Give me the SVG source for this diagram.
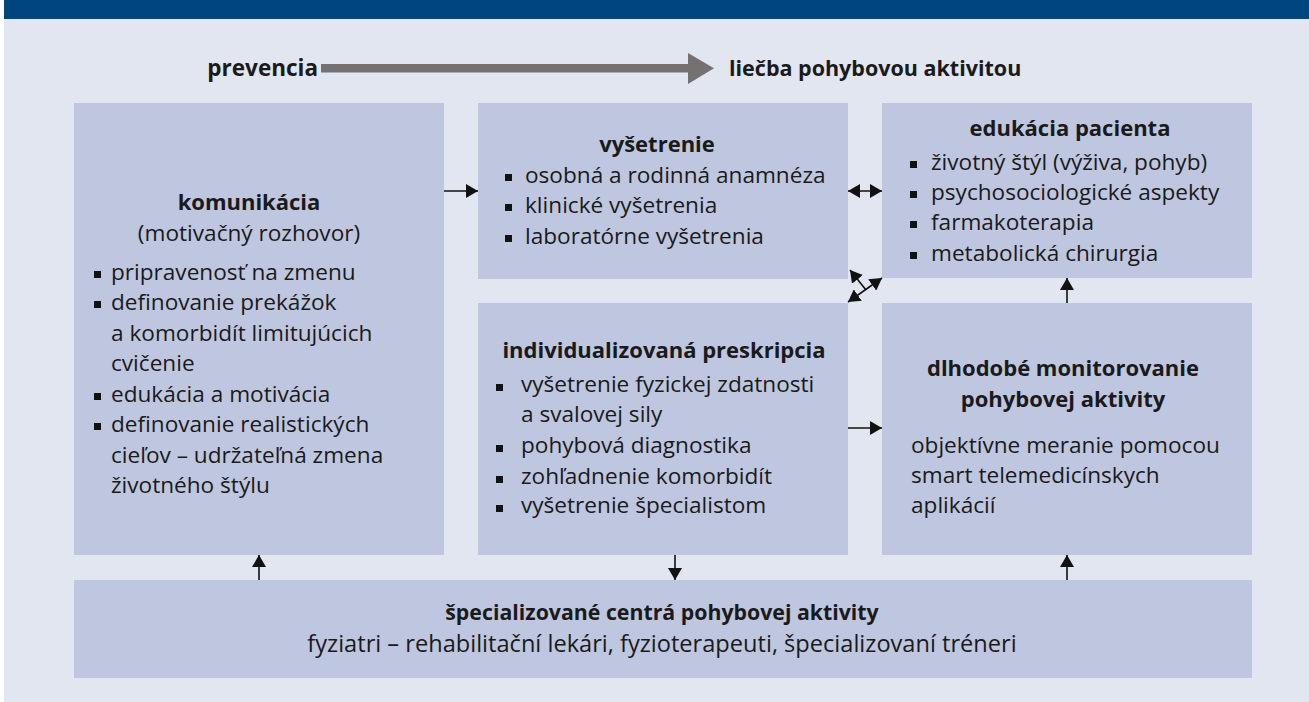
<svg xmlns="http://www.w3.org/2000/svg" width="1309" height="702" viewBox="0 0 1309 702">
<defs>
<style>
.box{fill:#bfc7e0}
.t{font-family:"Open Sans","Noto Sans",sans-serif;font-size:22.6px;fill:#1a1a1a}
.b{font-weight:bold;font-size:22px}
.c{text-anchor:middle}
.bul{fill:#111}
.con{stroke:#111;stroke-width:1.6;fill:none}
</style>
<marker id="ah" markerWidth="13" markerHeight="14" refX="12" refY="7" orient="auto-start-reverse" markerUnits="userSpaceOnUse">
<path d="M0,0 L12,7 L0,14 z" fill="#111"/>
</marker>
</defs>
<rect x="0" y="0" width="1309" height="702" fill="#ffffff"/>
<rect x="4" y="0" width="1305" height="19" fill="#00457d"/>
<rect x="4" y="19" width="1305" height="683" fill="#e1e6f0"/>

<g id="flow">
<text class="t b" x="318" y="76" text-anchor="end" style="font-size:22.5px">prevencia</text>
<rect x="321" y="64" width="368" height="8.5" fill="#757170"/>
<path d="M688,53 L714,68.3 L688,84 z" fill="#757170"/>
<text class="t b" x="729" y="76" style="font-size:21.5px">liečba pohybovou aktivitou</text>
</g>

<g id="komunikacia">
<rect class="box" x="74" y="103" width="370" height="452"/>
<text class="t b c" x="249" y="210">komunikácia</text>
<text class="t c" x="249" y="241">(motivačný rozhovor)</text>
<rect class="bul" x="94" y="271" width="7" height="7"/>
<text class="t" x="111" y="280">pripravenosť na zmenu</text>
<rect class="bul" x="94" y="301" width="7" height="7"/>
<text class="t" x="111" y="310">definovanie prekážok</text>
<text class="t" x="111" y="341">a komorbidít limitujúcich</text>
<text class="t" x="111" y="371">cvičenie</text>
<rect class="bul" x="94" y="393" width="7" height="7"/>
<text class="t" x="111" y="402">edukácia a motivácia</text>
<rect class="bul" x="94" y="423" width="7" height="7"/>
<text class="t" x="111" y="432">definovanie realistických</text>
<text class="t" x="111" y="463">cieľov – udržateľná zmena</text>
<text class="t" x="111" y="493">životného štýlu</text>
</g>

<g id="vysetrenie">
<rect class="box" x="478" y="103" width="370" height="176"/>
<text class="t b c" x="657" y="152">vyšetrenie</text>
<rect class="bul" x="505" y="174" width="7" height="7"/>
<text class="t" x="525" y="183">osobná a rodinná anamnéza</text>
<rect class="bul" x="505" y="204" width="7" height="7"/>
<text class="t" x="525" y="213">klinické vyšetrenia</text>
<rect class="bul" x="505" y="235" width="7" height="7"/>
<text class="t" x="525" y="244">laboratórne vyšetrenia</text>
</g>

<g id="edukacia">
<rect class="box" x="882" y="103" width="370" height="175"/>
<text class="t b c" x="1070" y="136">edukácia pacienta</text>
<rect class="bul" x="910" y="161" width="7" height="7"/>
<text class="t" x="931" y="170">životný štýl (výživa, pohyb)</text>
<rect class="bul" x="910" y="191" width="7" height="7"/>
<text class="t" x="931" y="200">psychosociologické aspekty</text>
<rect class="bul" x="910" y="221" width="7" height="7"/>
<text class="t" x="931" y="230">farmakoterapia</text>
<rect class="bul" x="910" y="252" width="7" height="7"/>
<text class="t" x="931" y="261">metabolická chirurgia</text>
</g>

<g id="preskripcia">
<rect class="box" x="478" y="303" width="370" height="252"/>
<text class="t b c" x="664" y="358">individualizovaná preskripcia</text>
<rect class="bul" x="496" y="384" width="7" height="7"/>
<text class="t" x="521" y="392">vyšetrenie fyzickej zdatnosti</text>
<text class="t" x="521" y="422">a svalovej sily</text>
<rect class="bul" x="496" y="445" width="7" height="7"/>
<text class="t" x="521" y="453">pohybová diagnostika</text>
<rect class="bul" x="496" y="476" width="7" height="7"/>
<text class="t" x="521" y="484">zohľadnenie komorbidít</text>
<rect class="bul" x="496" y="505" width="7" height="7"/>
<text class="t" x="521" y="513">vyšetrenie špecialistom</text>
</g>

<g id="monitorovanie">
<rect class="box" x="882" y="303" width="370" height="252"/>
<text class="t b c" x="1063" y="376">dlhodobé monitorovanie</text>
<text class="t b c" x="1063" y="407">pohybovej aktivity</text>
<text class="t" x="911" y="453">objektívne meranie pomocou</text>
<text class="t" x="911" y="483">smart telemedicínskych</text>
<text class="t" x="911" y="513">aplikácií</text>
</g>

<g id="centra">
<rect class="box" x="74" y="580" width="1178" height="98"/>
<text class="t b c" x="662" y="620" style="font-size:21.3px">špecializované centrá pohybovej aktivity</text>
<text class="t c" x="662" y="652" style="font-size:23.6px">fyziatri – rehabilitační lekári, fyzioterapeuti, špecializovaní tréneri</text>
</g>

<g id="connectors">
<line class="con" x1="444" y1="191" x2="478" y2="191" marker-end="url(#ah)"/>
<line class="con" x1="848" y1="191" x2="882" y2="191" marker-start="url(#ah)" marker-end="url(#ah)"/>
<line class="con" x1="848" y1="302" x2="882" y2="278" marker-start="url(#ah)" marker-end="url(#ah)"/>
<line class="con" x1="866" y1="290" x2="850" y2="270" marker-end="url(#ah)"/>
<line class="con" x1="848" y1="428" x2="882" y2="428" marker-end="url(#ah)"/>
<line class="con" x1="1067" y1="303" x2="1067" y2="278" marker-end="url(#ah)"/>
<line class="con" x1="259" y1="580" x2="259" y2="555" marker-end="url(#ah)"/>
<line class="con" x1="675" y1="555" x2="675" y2="580" marker-end="url(#ah)"/>
<line class="con" x1="1067" y1="580" x2="1067" y2="555" marker-end="url(#ah)"/>
</g>
</svg>
